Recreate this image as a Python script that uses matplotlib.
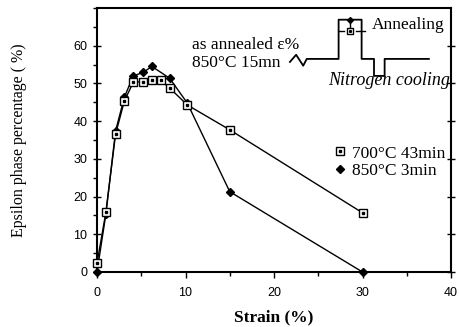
import matplotlib
matplotlib.use("Agg")
import matplotlib.pyplot as plt
from matplotlib.ticker import MultipleLocator
from matplotlib.legend_handler import HandlerTuple
from matplotlib.lines import Line2D

# data
strain_700 = [0, 1, 2.1, 3.1, 4.1, 5.2, 6.2, 7.2, 8.2, 10.2, 15, 30]
eps_700 = [2.3, 15.8, 36.6, 45.4, 50.3, 50.5, 51.0, 50.8, 48.8, 44.3, 37.7, 15.7]
strain_850 = [0, 1, 2.1, 3.1, 4.1, 5.2, 6.2, 8.2, 10.2, 15, 30]
eps_850 = [0, 15.3, 37.4, 46.4, 52.0, 52.9, 54.5, 51.4, 44.8, 21.3, 0]

labels = ["700°C 43min", "850°C 3min"]
xticks = [0, 10, 20, 30, 40]
yticks = [0, 10, 20, 30, 40, 50, 60]

# heat treatment sketch (upper right), in data units
sketch_x = [21.8, 22.5, 23.3, 23.7, 27.3, 27.3, 29.9, 29.9, 31.3, 31.3, 32.5, 32.5, 37.5]
sketch_y = [55.7, 57.6, 54.7, 56.5, 56.5, 66.9, 66.9, 56.5, 56.5, 52.0, 52.0, 56.5, 56.5]

serif = "Liberation Serif"
sans = "Liberation Sans"

fig = plt.figure(figsize=(4.6, 3.27), dpi=100)
ax = fig.add_axes([97 / 460, 1 - 272 / 327, 354 / 460, 264 / 327])

ax.plot(strain_700, eps_700, color="black", lw=1.0, clip_on=False, zorder=3)
ax.plot(strain_850, eps_850, color="black", lw=1.0, clip_on=False, zorder=3)
ax.plot(strain_850, eps_850, ls="none", marker="D", ms=4, mfc="black", mec="black",
        clip_on=False, zorder=4)
ax.plot(strain_700, eps_700, ls="none", marker="s", ms=5.5, mfc="white", mec="black",
        mew=1.0, clip_on=False, zorder=5)
ax.plot(strain_700, eps_700, ls="none", marker="s", ms=1.5, mfc="black", mec="black",
        clip_on=False, zorder=6)

ax.set_xlim(0, 40)
ax.set_ylim(0, 70)
ax.set_xticks(xticks)
ax.set_yticks(yticks)
ax.xaxis.set_minor_locator(MultipleLocator(5))
ax.yaxis.set_minor_locator(MultipleLocator(5))
ax.tick_params(axis="both", which="major", direction="out", length=4, width=1.0,
               labelsize=9, pad=4)
ax.tick_params(axis="x", which="major", pad=7)
ax.tick_params(axis="both", which="minor", direction="out", length=3, width=1.0)
ax.tick_params(axis="y", right=True, which="major", direction="inout", length=6)
for lab in ax.get_xticklabels() + ax.get_yticklabels():
    lab.set_family(sans)
for sp in ax.spines.values():
    sp.set_linewidth(1.5)

ax.set_xlabel("Strain (%)", family=serif, fontweight="bold", fontsize=12.5, labelpad=7)
ax.set_ylabel("Epsilon phase percentage ( %)", family=serif, fontsize=11.5, labelpad=33)

# sketch of the thermal cycle
ax.plot(sketch_x, sketch_y, color="black", lw=1.3, clip_on=False)
ax.plot([27.3, 27.9], [64.0, 64.0], color="black", lw=1.0)
ax.plot([29.3, 30.3], [64.0, 64.0], color="black", lw=1.0)
ax.plot([28.6, 28.6], [66.6, 64.0], color="black", lw=1.0)
ax.plot([28.6], [66.9], ls="none", marker="D", ms=3, color="black")
ax.plot([28.6], [64.0], ls="none", marker="s", ms=4.5, mfc="white", mec="black")
ax.plot([28.6], [64.0], ls="none", marker="s", ms=1.2, color="black")
ax.text(10.7, 60.2, "as annealed ε%", family=serif, fontsize=12.5, va="center", ha="left")
ax.text(10.7, 55.4, "850°C 15mn", family=serif, fontsize=12.5, va="center", ha="left")
ax.text(31.0, 65.6, "Annealing", family=serif, fontsize=12.5, va="center", ha="left")
ax.text(26.1, 50.8, "Nitrogen cooling", family=serif, fontsize=13, style="italic",
        va="center", ha="left", clip_on=False)

sq = (Line2D([], [], ls="none", marker="s", ms=5.5, mfc="white", mec="black"),
      Line2D([], [], ls="none", marker="s", ms=1.5, color="black"))
di = Line2D([], [], ls="none", marker="D", ms=4, color="black")
ax.legend([sq, di], labels, handler_map={tuple: HandlerTuple(ndivide=1, pad=0)},
          loc="center left", bbox_to_anchor=(333 / 460, 1 - 162 / 327),
          bbox_transform=fig.transFigure, frameon=False, handlelength=0.8,
          handletextpad=0.3, borderpad=0, borderaxespad=0, labelspacing=0.05,
          prop={"family": serif, "size": 12.5})

fig.savefig("out.png", dpi=100)
